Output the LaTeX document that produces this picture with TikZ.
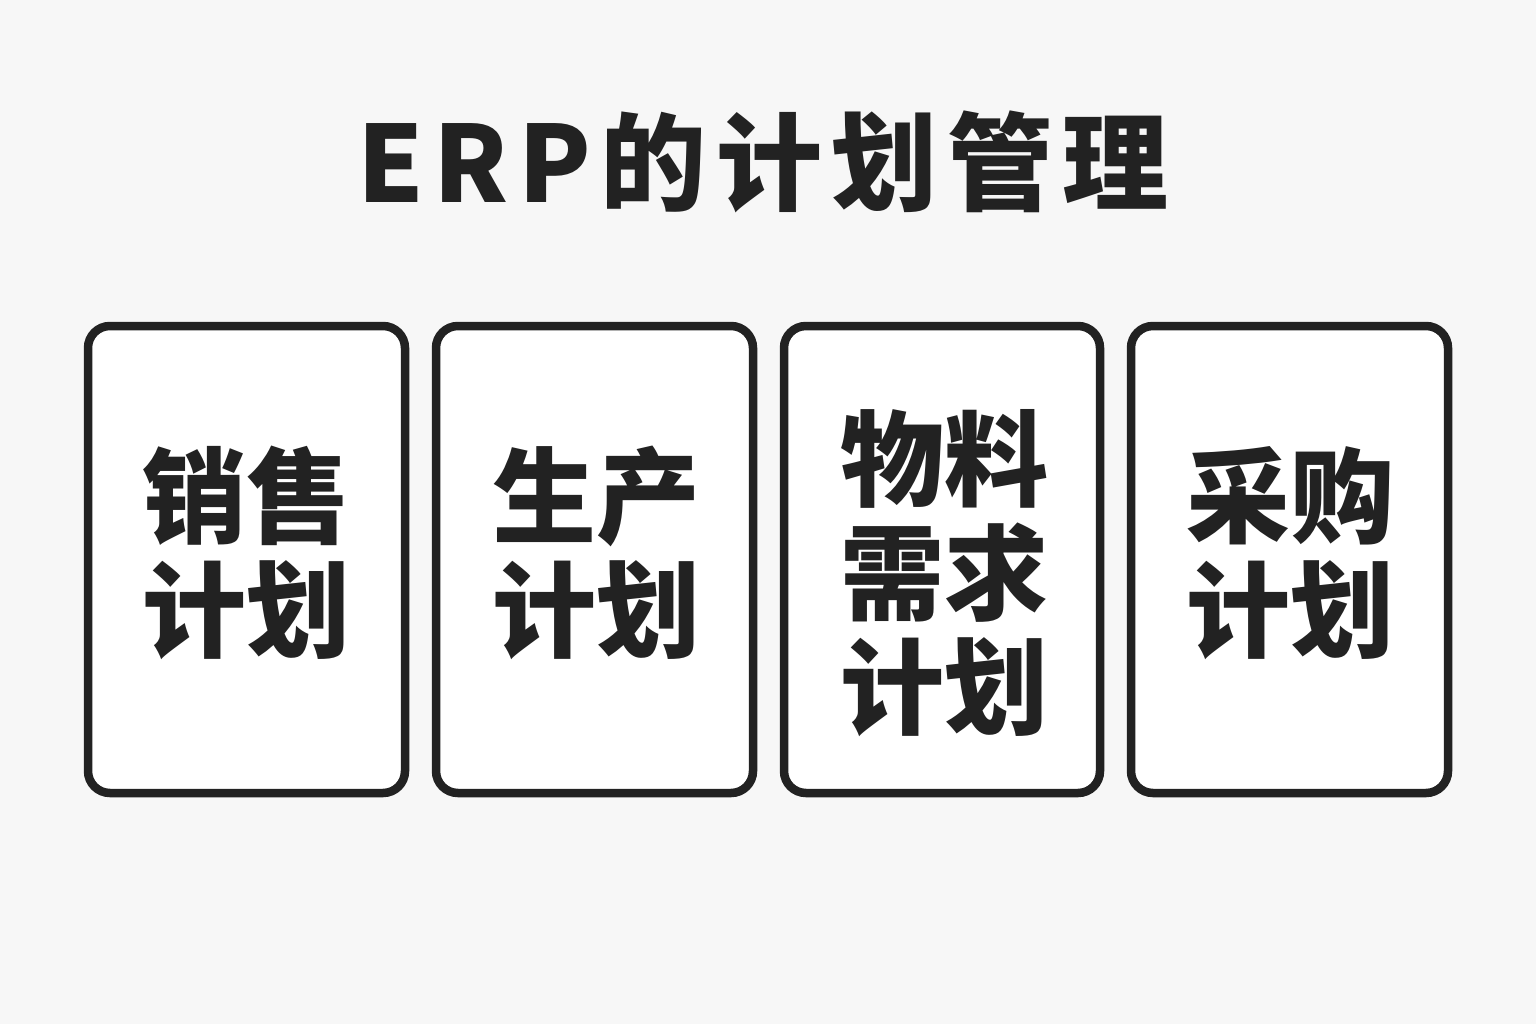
\documentclass[tikz,border=0pt]{standalone}
\usepackage{fontspec}
\newfontfamily\cjk{Noto Sans CJK SC}
\newfontfamily\cjkwide{Noto Sans CJK SC}[LetterSpace=9]
\definecolor{bg}{HTML}{F7F7F7}
\definecolor{ink}{HTML}{222222}
\begin{document}
\begin{tikzpicture}[x=1pt,y=-1pt,
  card/.style={draw=ink, fill=white, line width=8.5pt, rounded corners=22pt},
  cardtext/.style={text=ink, align=center, font=\cjk\bfseries\fontsize{104}{114}\selectfont},
  titletext/.style={text=ink, font=\cjkwide\bfseries\fontsize{106}{110}\selectfont}]
\fill[bg] (0,0) rectangle (1536,1024);
\useasboundingbox (0,0) rectangle (1536,1024);
\node[titletext] (title) at (763,162) {ERP的计划管理};
\draw[card] (88,326) rectangle (405,793);
\draw[card] (436,326) rectangle (753,793);
\draw[card] (784,326) rectangle (1100,793);
\draw[card] (1131,326) rectangle (1448,793);
\node[cardtext] (c1) at (246.5,553) {销售\\计划};
\node[cardtext] (c2) at (596,553) {生产\\计划};
\node[cardtext] (c3) at (944,573) {物料\\需求\\计划};
\node[cardtext] (c4) at (1290,553) {采购\\计划};
\end{tikzpicture}
\end{document}
